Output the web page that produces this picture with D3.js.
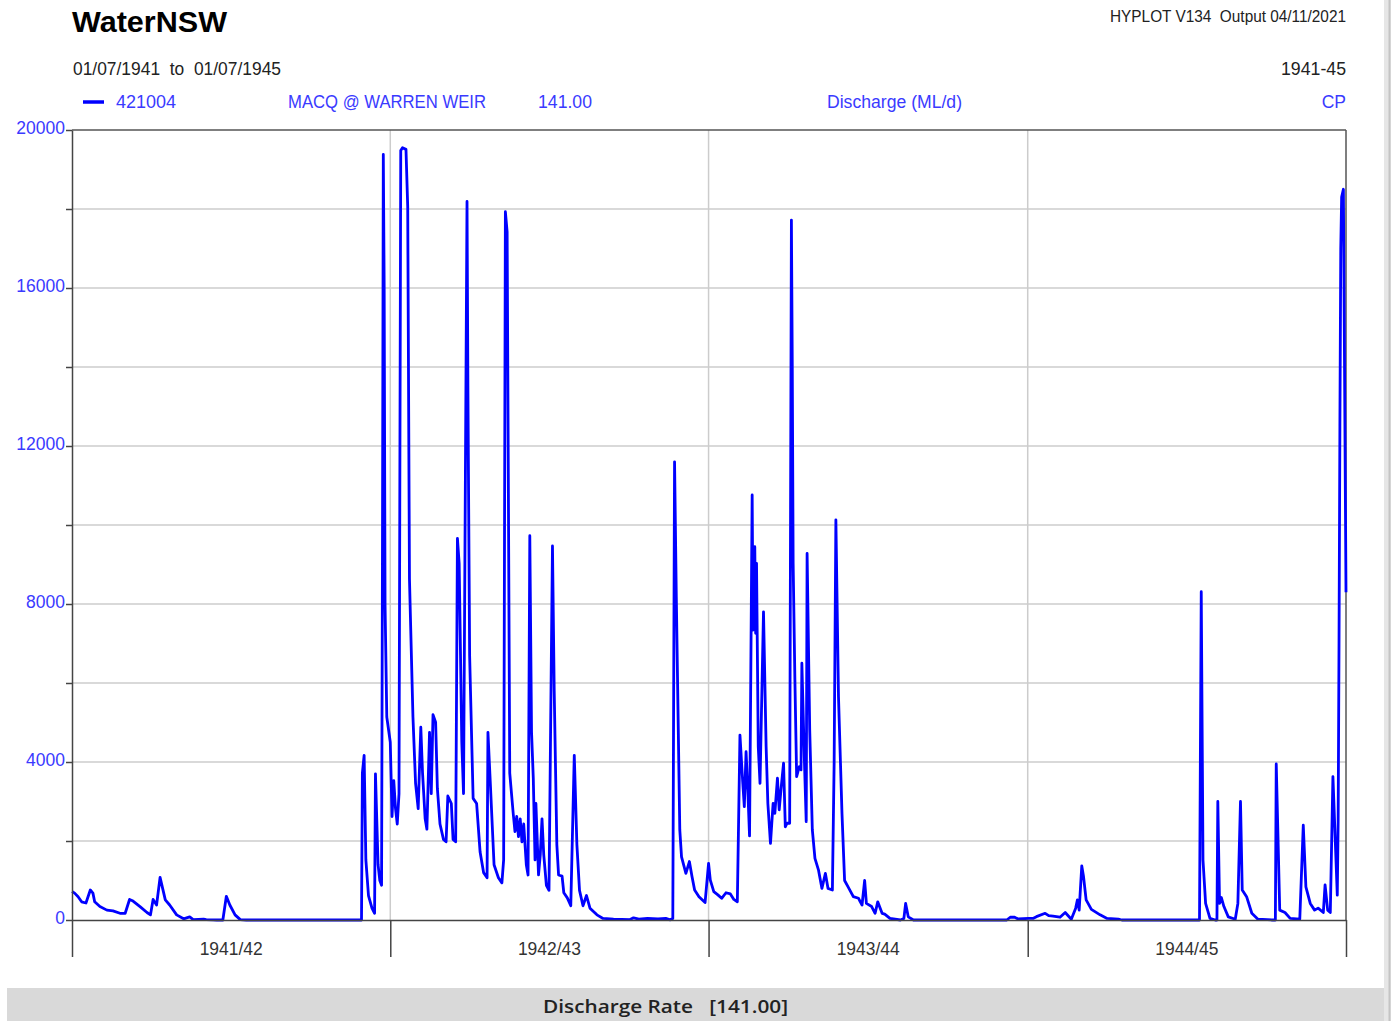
<!DOCTYPE html>
<html>
<head>
<meta charset="utf-8">
<script src="https://cdn.jsdelivr.net/npm/d3@7"></script>
<style>
  body { margin: 0; background: #fff; }
  svg { display: block; font-family: "Liberation Sans", Arial, sans-serif; }
</style>
</head>
<body>
<script>
// daily discharge: day offset from 01/07/1941 and ML/d
const days = [0,3,7,11,16,21,24,26,32,40,47,55,61,66,70,78,86,90,93,97,101,107,112,120,128,135,139,151,154,162,166,173,177,181,187,193,200,
  332,333,335,337,340,344,347,348,351,353,355,356,357,358,359,361,365,367,369,371,373,375,377,379,383,385,387,391,394,397,400,402,405,407,410,412,414,417,419,422,426,429,431,435,437,440,442,444,447,449,453,454,456,460,464,468,472,476,477,480,484,489,493,495,497,499,502,506,508,510,512,514,516,518,521,523,525,527,529,531,532,535,537,539,541,544,547,551,553,556,558,562,564,568,572,576,579,582,586,590,594,602,609,621,640,644,650,660,672,681,686,689,
  691,693,697,699,704,708,711,714,719,726,730,732,736,741,745,750,755,759,763,766,769,771,773,775,777,780,781,783,784,785,787,789,793,796,798,801,804,806,809,811,813,816,818,820,823,825,826,827,829,831,834,836,837,840,842,843,846,849,852,856,860,864,867,872,874,876,879,883,886,890,896,902,904,906,909,911,917,921,924,929,932,938,950,954,956,959,965,
  1072,1076,1081,1085,1097,1102,1106,1116,1120,1125,1133,1139,1146,1151,1153,1155,1158,1160,1163,1169,1179,1187,1200,1204,1293,1295,1297,1300,1305,1311,1313,1314,1316,1318,1321,1326,1334,1337,1340,1342,1347,1353,1360,1377,1380,1381,1385,1391,1397,1408,1412,1415,1420,1425,1429,1435,1437,1440,1443,1446,1451,1452,1453,1454,1455,1456,1458,1461];
const flow = [720,680,590,460,430,760,680,460,340,250,230,170,170,520,480,340,190,130,520,380,1080,510,380,130,30,80,10,20,10,5,0,0,600,380,130,10,0,
  0,3720,4170,1520,620,300,170,3700,1400,1000,880,9000,19380,16000,8000,5140,4500,2620,3530,2820,2430,3200,19480,19550,19510,18060,8630,5140,3460,2820,4880,3720,2560,2300,4750,3200,5200,5010,3330,2430,2040,1980,3140,2950,2040,1980,9660,9020,4500,3200,18190,13540,6690,3080,2950,1720,1200,1070,4750,3330,1400,1070,940,1520,17930,17420,3720,2690,2240,2620,2110,2560,1980,2430,1400,1140,9730,4750,3590,1520,2950,1140,1650,2560,1650,880,750,9470,5790,1910,1140,1110,690,560,360,4170,1910,750,360,620,300,130,40,20,10,55,20,40,30,40,5,40,
  11600,8190,2280,1600,1180,1480,1100,760,590,440,1435,1010,720,630,550,690,660,520,460,4680,3550,2870,4260,3290,2130,10760,7340,9450,7260,9030,4390,3460,7800,4390,2950,1940,2950,2700,3590,2790,3290,3970,2360,2450,2450,17720,14000,9030,6080,3630,3880,3800,6500,3970,2490,9280,4810,2280,1560,1270,800,1180,800,760,3970,10130,5650,2700,1000,840,590,550,460,380,1000,420,340,170,460,170,150,40,0,40,420,80,0,
  0,70,70,25,40,40,85,170,110,100,70,190,20,300,510,250,1370,1100,510,270,130,40,20,0,0,8310,1520,420,40,0,0,3000,420,570,340,80,20,420,3000,760,590,170,20,0,0,3950,250,190,40,20,2400,840,420,250,300,190,890,250,190,3630,630,2500,7000,12500,17000,18300,18500,8300];

const yTicks = [0,2000,4000,6000,8000,10000,12000,14000,16000,18000,20000];
const yearStarts = [1941,1942,1943,1944,1945];
const yearLabels = ["1941/42","1942/43","1943/44","1944/45"];

const start = Date.UTC(1941, 6, 1);
const data = days.map((d, i) => ({ date: new Date(start + d * 864e5), v: flow[i] }));

const W = 1391, H = 1021;
const mL = 72, mR = 1346, mT = 130, mB = 920;
const blue = "#0000ff", txtBlue = "#3a3aff";

const svg = d3.select("body").append("svg").attr("width", W).attr("height", H);

const x = d3.scaleUtc().domain([new Date(start), new Date(Date.UTC(1945, 6, 1))]).range([mL, mR]);
const y = d3.scaleLinear().domain([0, 20000]).range([mB, mT]);

// page edges
svg.append("rect").attr("x", 1384).attr("y", 0).attr("width", 7).attr("height", H).attr("fill", "#e6e6e6");
svg.append("line").attr("x1", 1389.5).attr("x2", 1389.5).attr("y1", 0).attr("y2", H).attr("stroke", "#c4c4c4").attr("stroke-width", 2);
svg.append("rect").attr("x", 7).attr("y", 988).attr("width", 1377).attr("height", 33).attr("fill", "#d9d9d9");

// gridlines
svg.append("g").selectAll("line").data(yTicks.slice(1, -1)).join("line")
  .attr("x1", mL).attr("x2", mR).attr("y1", d => y(d)).attr("y2", d => y(d))
  .attr("stroke", "#cccccc").attr("stroke-width", 1.5);
const yearDates = yearStarts.map(yr => new Date(Date.UTC(yr, 6, 1)));
svg.append("g").selectAll("line").data(yearDates.slice(1, -1)).join("line")
  .attr("x1", d => x(d)).attr("x2", d => x(d)).attr("y1", mT).attr("y2", mB)
  .attr("stroke", "#cccccc").attr("stroke-width", 1.5);

// frame
svg.append("line").attr("x1", mL).attr("x2", mR).attr("y1", mT).attr("y2", mT).attr("stroke", "#555").attr("stroke-width", 1.5);
svg.append("line").attr("x1", mR).attr("x2", mR).attr("y1", mT).attr("y2", mB).attr("stroke", "#555").attr("stroke-width", 1.5);

// data line
svg.append("path").datum(data)
  .attr("fill", "none").attr("stroke", blue).attr("stroke-width", 2.8).attr("stroke-linejoin", "round")
  .attr("d", d3.line().x(d => x(d.date)).y(d => y(d.v)));

// y axis
const yAxis = svg.append("g").attr("transform", `translate(${mL},0)`)
  .call(d3.axisLeft(y).tickValues(yTicks).tickSize(6).tickSizeOuter(0)
    .tickFormat(d => d % 4000 === 0 ? d : ""));
yAxis.select(".domain").attr("stroke", "#444").attr("stroke-width", 1.5);
yAxis.selectAll(".tick line").attr("stroke", "#444").attr("stroke-width", 1.5);
yAxis.selectAll(".tick text").attr("fill", txtBlue).attr("font-size", 17.5)
  .attr("font-family", "Liberation Sans, Arial, sans-serif").attr("x", -7).attr("dy", "0.2em");

// x axis: year ticks below the plot
const xAxis = svg.append("g").attr("transform", `translate(0,${mB})`)
  .call(d3.axisBottom(x).tickValues(yearDates).tickSize(37).tickSizeOuter(0).tickFormat(""));
xAxis.select(".domain").attr("stroke", "#444").attr("stroke-width", 1.5);
xAxis.selectAll(".tick line").attr("stroke", "#444").attr("stroke-width", 1.5);

// year labels between ticks
svg.append("g").selectAll("text").data(yearLabels).join("text")
  .attr("x", (d, i) => (x(yearDates[i]) + x(yearDates[i + 1])) / 2).attr("y", 955)
  .attr("text-anchor", "middle").attr("font-size", 17.5).attr("fill", "#333")
  .attr("textLength", 63).attr("lengthAdjust", "spacingAndGlyphs").text(d => d);

// header
svg.append("text").attr("x", 72).attr("y", 32).attr("font-size", 30).attr("font-weight", "bold")
  .attr("fill", "#000").attr("textLength", 155).attr("lengthAdjust", "spacingAndGlyphs").text("WaterNSW");
svg.append("text").attr("x", 1346).attr("y", 22).attr("text-anchor", "end").attr("font-size", 16)
  .attr("fill", "#222").attr("textLength", 236).attr("lengthAdjust", "spacingAndGlyphs")
  .attr("xml:space", "preserve").text("HYPLOT V134  Output 04/11/2021");
svg.append("text").attr("x", 73).attr("y", 75).attr("font-size", 17.5).attr("fill", "#222")
  .attr("textLength", 208).attr("lengthAdjust", "spacingAndGlyphs")
  .attr("xml:space", "preserve").text("01/07/1941  to  01/07/1945");
svg.append("text").attr("x", 1346).attr("y", 75).attr("text-anchor", "end").attr("font-size", 17.5)
  .attr("fill", "#222").attr("textLength", 65).attr("lengthAdjust", "spacingAndGlyphs").text("1941-45");

// legend row
svg.append("line").attr("x1", 83).attr("x2", 104).attr("y1", 102).attr("y2", 102).attr("stroke", blue).attr("stroke-width", 3.5);
const legend = [
  { t: "421004", x: 116, w: 60 },
  { t: "MACQ @ WARREN WEIR", x: 288, w: 198 },
  { t: "141.00", x: 538, w: 54 },
  { t: "Discharge (ML/d)", x: 827, w: 135 }
];
svg.append("g").selectAll("text").data(legend).join("text")
  .attr("x", d => d.x).attr("y", 108).attr("font-size", 17.5).attr("fill", txtBlue)
  .attr("textLength", d => d.w).attr("lengthAdjust", "spacingAndGlyphs").text(d => d.t);
svg.append("text").attr("x", 1346).attr("y", 108).attr("text-anchor", "end").attr("font-size", 17.5)
  .attr("fill", txtBlue).text("CP");

// footer
svg.append("text").attr("x", 543).attr("y", 1013).attr("font-size", 18.5).attr("font-weight", 600)
  .attr("font-family", "Open Sans, Noto Sans, sans-serif").attr("fill", "#222")
  .attr("textLength", 245).attr("lengthAdjust", "spacingAndGlyphs")
  .attr("xml:space", "preserve").text("Discharge Rate   [141.00]");
</script>
</body>
</html>
